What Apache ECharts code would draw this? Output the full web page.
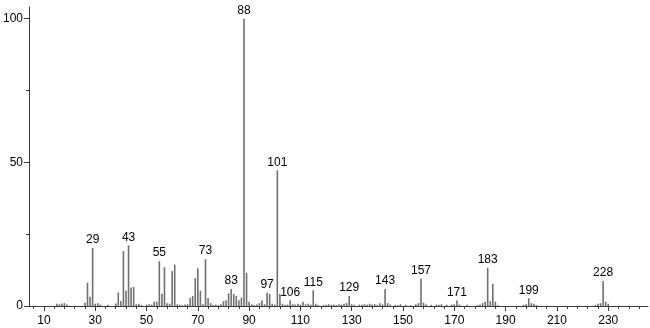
<!DOCTYPE html>
<html>
<head>
<meta charset="utf-8">
<script src="https://cdn.jsdelivr.net/npm/echarts@6/dist/echarts.min.js"></script>
<style>html,body{margin:0;padding:0;background:#fff;}#c{width:650px;height:328px;}</style>
</head>
<body>
<div id="c"></div>
<script>
// m/z values and relative intensities
const mz = [15,16,17,18,19,26,27,28,29,30,31,32,35,38,39,40,41,42,43,44,45,46,47,48,
  50,51,52,53,54,55,56,57,58,59,60,61,62,63,64,65,66,67,68,69,70,71,72,73,74,75,76,77,78,79,
  80,81,82,83,84,85,86,87,88,89,90,91,92,93,94,95,96,97,98,99,100,101,102,103,104,105,106,107,108,109,
  110,111,112,113,114,115,116,117,119,120,121,122,123,124,125,126,127,128,129,130,131,133,134,135,136,137,138,139,
  140,141,142,143,144,145,147,148,149,151,153,155,156,157,158,159,161,163,164,165,167,169,170,171,172,175,179,
  180,181,182,183,184,185,186,187,197,198,199,200,201,202,225,226,227,228,229,230];
const intensity = [0.8,0.6,0.9,1.0,0.5,1.1,8.1,3.2,20.2,0.8,1.0,0.5,0.4,0.9,4.7,1.7,19.1,5.3,21.1,6.4,6.6,0.6,0.8,0.4,
  0.5,0.6,0.5,1.5,1.5,15.6,4.3,13.5,1.0,0.8,12.2,14.4,0.6,0.4,0.3,0.5,0.6,2.9,3.5,9.7,13.1,5.3,0.6,16.3,2.8,1.0,0.4,0.5,0.3,0.6,
  1.7,2.0,4.4,5.9,4.2,3.5,2.0,2.9,100,11.6,1.5,0.6,0.4,0.5,1.0,2.0,0.6,4.6,4.2,0.8,0.5,47.2,4.2,0.8,0.4,0.5,2.0,0.6,0.5,0.8,
  0.5,1.5,0.6,0.8,0.5,5.5,0.8,0.4,0.3,0.4,0.6,0.4,0.5,0.3,0.6,0.5,0.8,1.0,3.5,0.6,0.4,0.5,0.4,0.6,0.4,0.8,0.5,0.6,
  0.4,1.0,0.6,5.9,1.0,0.5,0.4,0.3,0.6,0.4,0.3,0.6,1.0,9.6,1.2,0.5,0.4,0.5,0.4,0.6,0.4,0.5,0.6,1.9,0.5,0.4,0.3,
  0.5,1.0,1.5,13.3,1.7,7.7,1.5,0.3,0.4,0.6,2.7,1.0,0.8,0.3,0.4,0.8,1.0,8.7,1.5,0.8];
const labeledPeaks = [29,43,55,73,83,88,97,101,106,115,129,143,157,171,183,199,228];
const xTickLabels = [10,30,50,70,90,110,130,150,170,190,210,230];
const yTickLabels = [0,50,100];
const yMinorTicks = [25,75];

const xMinorTicks = [];
for (let v = 6; v <= 245; v += 4) xMinorTicks.push(v);

const data = mz.map((m, i) => {
  const item = { value: [m, intensity[i]] };
  if (labeledPeaks.includes(m)) {
    item.label = { show: true, formatter: String(m) };
  }
  return item;
});

const font = 'Liberation Sans';
const axisCol = '#3a3a3a';
const XMIN = 4.2, XMAX = 245.5;

const chart = echarts.init(document.getElementById('c'), null, { renderer: 'canvas' });
chart.setOption({
  animation: false,
  backgroundColor: '#ffffff',
  grid: { left: 27, right: 2, top: 7, bottom: 22, containLabel: false },
  xAxis: [{
    type: 'value', min: XMIN, max: XMAX, position: 'bottom',
    splitLine: { show: false },
    axisLine: { show: true, lineStyle: { color: axisCol, width: 1 } },
    axisTick: { show: true, customValues: xTickLabels, length: 5, lineStyle: { color: axisCol } },
    axisLabel: { show: true, customValues: xTickLabels, margin: 9, color: '#000', fontFamily: font, fontSize: 12 }
  }, {
    type: 'value', min: XMIN, max: XMAX, position: 'bottom', offset: 0,
    splitLine: { show: false },
    axisLine: { show: false },
    axisTick: { show: true, customValues: xMinorTicks, length: 3, lineStyle: { color: axisCol } },
    axisLabel: { show: false }
  }],
  yAxis: [{
    type: 'value', min: 0, max: 104, position: 'left',
    splitLine: { show: false },
    axisLine: { show: true, lineStyle: { color: axisCol, width: 1 } },
    axisTick: { show: true, customValues: yTickLabels, length: 5, lineStyle: { color: axisCol } },
    axisLabel: { show: true, customValues: yTickLabels, margin: 6, color: '#000', fontFamily: font, fontSize: 12 }
  }, {
    type: 'value', min: 0, max: 104, position: 'left', offset: 0,
    splitLine: { show: false },
    axisLine: { show: false },
    axisTick: { show: true, customValues: yMinorTicks, length: 3, lineStyle: { color: axisCol } },
    axisLabel: { show: false }
  }],
  series: [{
    type: 'bar', xAxisIndex: 0, yAxisIndex: 0,
    barWidth: 1.6,
    itemStyle: { color: '#707070' },
    label: { show: false, position: 'top', distance: 2, color: '#000', fontFamily: font, fontSize: 12 },
    data: data
  }]
});
</script>
</body>
</html>
